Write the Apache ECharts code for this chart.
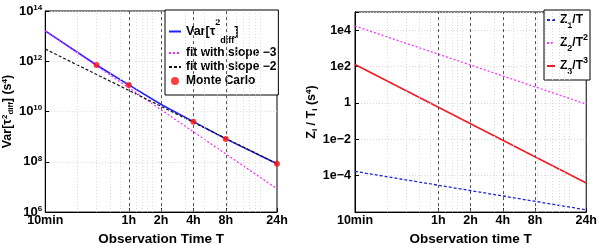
<!DOCTYPE html>
<html><head><meta charset="utf-8">
<script src="https://cdn.jsdelivr.net/npm/echarts@6/dist/echarts.min.js"></script>
<style>html,body{margin:0;padding:0;background:#fff}#c{width:600px;height:251px}</style>
</head><body><div id="c"></div>
<script>
// ---- data (time in minutes) ----
const timeMinutes = [10, 30, 60, 120, 240, 480, 1440];
const varValues = [1.61e13, 7.13e11, 1.15e11, 1.90e10, 3.96e9, 8.18e8, 8.39e7];
const fitTimes = [10, 1440];
const fitSlope3 = [1.61e13, 8.5e6];
const fitSlope2 = [3.06e12, 8.4e7];
const mcTimes = [30, 60, 240, 480, 1440];
const mcValues = [7.13e11, 1.15e11, 3.96e9, 8.18e8, 8.39e7];
const z1T = [1.73e-4, 1.33e-6];
const z2T2 = [1.7e4, 0.86];
const z3T3 = [130, 4.0e-5];
const xTickValues = [10, 60, 120, 240, 480, 1440];
const xTickLabels = ['10min', '1h', '2h', '4h', '8h', '24h'];
const hourLines = [60, 120, 240, 480];
const minorGridX = [20, 30, 40, 50, 70, 80, 90, 100, 200, 300, 400, 500, 600, 700, 800, 900, 1000];
const leftYExps = [6, 8, 10, 12, 14];
const rightYValues = [1e-4, 1e-2, 1, 1e2, 1e4];
const rightYLabels = ['1e−4', '1e−2', '1', '1e2', '1e4'];

const F = '"Liberation Sans", Arial, sans-serif';
const pair = (xs, ys) => xs.map((x, i) => [x, ys[i]]);
const xLabel = v => {
  const i = xTickValues.findIndex(t => Math.abs(t - v) / t < 1e-6);
  return i >= 0 ? xTickLabels[i] : '';
};
const richBase = {
  n: {fontFamily: F, fontWeight: 'bold', fontSize: 12.5, color: '#000', lineHeight: 14},
  sup: {fontFamily: F, fontWeight: 'bold', fontSize: 8, color: '#000', verticalAlign: 'top', lineHeight: 9},
  sub: {fontFamily: F, fontWeight: 'bold', fontSize: 8, color: '#000', verticalAlign: 'bottom', lineHeight: 9}
};
const minorStyle = {color: '#d9d9d9', type: [1, 2], width: 1};
const hourStyle = {color: '#555', type: [3, 3], width: 1};
const gridLines = {
  silent: true, symbol: ['none', 'none'], label: {show: false}, animation: false,
  emphasis: {disabled: true},
  data: minorGridX.map(v => ({xAxis: v, lineStyle: minorStyle}))
    .concat(hourLines.map(v => ({xAxis: v, lineStyle: hourStyle})))
};
const noSym = {opacity: 0};

function makeX(gi, name) {
  return {
    type: 'log', gridIndex: gi, min: 10, max: 1440, logBase: 10,
    name: name, nameLocation: 'middle', nameGap: 14,
    nameTextStyle: {fontFamily: F, fontWeight: 'bold', fontSize: 13.5, color: '#000'},
    axisLine: {show: true, onZero: false, lineStyle: {color: '#000', width: 1}},
    axisTick: {show: true, inside: true, length: 4, customValues: xTickValues, lineStyle: {color: '#000'}},
    axisLabel: {customValues: xTickValues, formatter: xLabel, margin: 2, hideOverlap: false,
      fontFamily: F, fontWeight: 'bold', fontSize: 12.5, color: '#000'},
    splitLine: {show: false}
  };
}

const chart = echarts.init(document.getElementById('c'), null, {renderer: 'canvas'});
chart.setOption({
  animation: false,
  backgroundColor: '#fff',
  grid: [
    {left: 43, top: 11, width: 234, height: 215, show: true, borderColor: '#000', borderWidth: 1},
    {left: 355, top: 12, width: 233, height: 213, show: true, borderColor: '#000', borderWidth: 1}
  ],
  xAxis: [makeX(0, 'Observation Time T'), makeX(1, 'Observation time T')],
  yAxis: [
    {
      type: 'log', gridIndex: 0, logBase: 100, min: 1e6, max: 1e14,
      name: '{n|Var[τ}{sup|2}{sub|diff}{n|] (s}{sup|4}{n|)}', nameLocation: 'middle', nameGap: 27,
      nameTextStyle: {rich: richBase},
      axisLine: {show: true, lineStyle: {color: '#000'}},
      axisTick: {show: true, inside: true, length: 4, lineStyle: {color: '#000'}},
      axisLabel: {
        margin: 3, showMinLabel: true, showMaxLabel: true,
        formatter: v => {
          const e = Math.round(Math.log10(v));
          return leftYExps.indexOf(e) >= 0 ? '{b|10}{e|' + e + '}' : '';
        },
        rich: {
          b: {fontFamily: F, fontWeight: 'bold', fontSize: 13, color: '#000', lineHeight: 15},
          e: {fontFamily: F, fontWeight: 'bold', fontSize: 8, color: '#000', verticalAlign: 'top', lineHeight: 9}
        }
      },
      splitLine: {show: true, lineStyle: minorStyle}
    },
    {
      type: 'log', gridIndex: 1, logBase: 100, min: 1e-6, max: 1e5,
      name: '{n|Z}{sub|i}{n| / T}{sub|i}{n| (s}{sup|4}{n|)}', nameLocation: 'middle', nameGap: 28,
      nameTextStyle: {rich: richBase},
      axisLine: {show: true, lineStyle: {color: '#000'}},
      axisTick: {show: true, inside: true, length: 4, lineStyle: {color: '#000'}},
      axisLabel: {
        margin: 4, fontFamily: F, fontWeight: 'bold', fontSize: 12.5, color: '#000',
        formatter: v => {
          const e = Math.round(Math.log10(v));
          const i = rightYValues.findIndex(x => Math.round(Math.log10(x)) === e);
          return i >= 0 ? rightYLabels[i] : '';
        }
      },
      splitLine: {show: true, lineStyle: minorStyle}
    }
  ],
  legend: [
    {
      orient: 'vertical', left: 165, top: 10, itemWidth: 12, itemHeight: 8, itemGap: 2,
      padding: [8, 2, 8, 3], backgroundColor: '#fff', borderColor: '#000', borderWidth: 1,
      data: [
        {name: 'Var', itemStyle: noSym},
        {name: 'fit with slope −3', itemStyle: noSym},
        {name: 'fit with slope −2', itemStyle: noSym},
        {name: 'Monte Carlo', icon: 'circle'}
      ],
      formatter: n => n === 'Var' ? '{v|Var[τ}{sup|2}{sub|diff}{v|]}' : '{n|' + n + '}',
      textStyle: {rich: {
        n: {fontFamily: F, fontWeight: 'bold', fontSize: 12, color: '#000', lineHeight: 14},
        v: {fontFamily: F, fontWeight: 'bold', fontSize: 12.5, color: '#000', lineHeight: 27},
        sup: {fontFamily: F, fontWeight: 'bold', fontSize: 9, color: '#000', verticalAlign: 'top', lineHeight: 18},
        sub: {fontFamily: F, fontWeight: 'bold', fontSize: 9, color: '#000', verticalAlign: 'bottom', lineHeight: 11}
      }}
    },
    {
      orient: 'vertical', left: 544, top: 10, itemWidth: 8, itemHeight: 8, itemGap: 3,
      padding: [4, 2, 4, 2], backgroundColor: '#fff', borderColor: '#000', borderWidth: 1,
      data: [
        {name: 'Z1/T', itemStyle: noSym},
        {name: 'Z2/T2', itemStyle: noSym},
        {name: 'Z3/T3', itemStyle: noSym}
      ],
      formatter: n => {
        const m = {'Z1/T': '{n|Z}{sub|1}{n|/T}', 'Z2/T2': '{n|Z}{sub|2}{n|/T}{sup|2}', 'Z3/T3': '{n|Z}{sub|3}{n|/T}{sup|3}'};
        return m[n];
      },
      textStyle: {rich: {
        n: {fontFamily: F, fontWeight: 'bold', fontSize: 12, color: '#000', lineHeight: 20},
        sup: {fontFamily: F, fontWeight: 'bold', fontSize: 9, color: '#000', verticalAlign: 'top', lineHeight: 12},
        sub: {fontFamily: F, fontWeight: 'bold', fontSize: 9, color: '#000', verticalAlign: 'bottom', lineHeight: 10}
      }}
    }
  ],
  series: [
    {
      name: 'Var', type: 'line', xAxisIndex: 0, yAxisIndex: 0, data: pair(timeMinutes, varValues),
      symbol: 'none', color: '#2222ff', lineStyle: {color: '#2222ff', width: 1.6}, z: 3,
      markLine: gridLines
    },
    {
      name: 'fit with slope −3', type: 'line', xAxisIndex: 0, yAxisIndex: 0, data: pair(fitTimes, fitSlope3),
      symbol: 'none', color: '#ff22ff', lineStyle: {color: '#ff22ff', width: 1.2, type: [2, 2]}, z: 4
    },
    {
      name: 'fit with slope −2', type: 'line', xAxisIndex: 0, yAxisIndex: 0, data: pair(fitTimes, fitSlope2),
      symbol: 'none', color: '#111', lineStyle: {color: '#111', width: 1.2, type: [3, 2]}, z: 4
    },
    {
      name: 'Monte Carlo', type: 'scatter', xAxisIndex: 0, yAxisIndex: 0, data: pair(mcTimes, mcValues),
      symbol: 'circle', symbolSize: 6, itemStyle: {color: '#ff1010'}, z: 5
    },
    {
      name: 'Z1/T', type: 'line', xAxisIndex: 1, yAxisIndex: 1, data: pair(fitTimes, z1T),
      symbol: 'none', color: '#2020e0', lineStyle: {color: '#2020e0', width: 1.3, type: [3, 2]}, z: 4,
      markLine: gridLines
    },
    {
      name: 'Z2/T2', type: 'line', xAxisIndex: 1, yAxisIndex: 1, data: pair(fitTimes, z2T2),
      symbol: 'none', color: '#ff33ff', lineStyle: {color: '#ff33ff', width: 1.3, type: [2, 2]}, z: 4
    },
    {
      name: 'Z3/T3', type: 'line', xAxisIndex: 1, yAxisIndex: 1, data: pair(fitTimes, z3T3),
      symbol: 'none', color: '#ee1c25', lineStyle: {color: '#ee1c25', width: 1.6}, z: 4
    }
  ]
});
</script>
</body></html>
